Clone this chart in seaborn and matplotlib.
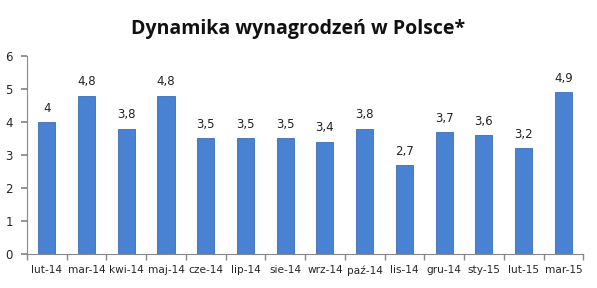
import matplotlib
matplotlib.use("Agg")
import matplotlib.pyplot as plt
import seaborn as sns
import pandas as pd
import numpy as np

months = ["lut-14", "mar-14", "kwi-14", "maj-14", "cze-14", "lip-14", "sie-14",
          "wrz-14", "paź-14", "lis-14", "gru-14", "sty-15", "lut-15", "mar-15"]
values = [4.0, 4.8, 3.8, 4.8, 3.5, 3.5, 3.5, 3.4, 3.8, 2.7, 3.7, 3.6, 3.2, 4.9]
labels = ["4", "4,8", "3,8", "4,8", "3,5", "3,5", "3,5", "3,4", "3,8", "2,7", "3,7", "3,6", "3,2", "4,9"]
yticks = [0, 1, 2, 3, 4, 5, 6]

sns.set_theme(style="white")
plt.rcParams['font.family'] = ['DejaVu Sans']

df = pd.DataFrame({"month": months, "value": values})

fig = plt.figure(figsize=(5.97, 2.88), dpi=100)
ax = fig.add_axes([0.045, 0.118, 0.932, 0.688])
sns.barplot(data=df, x="month", y="value", ax=ax, color="#4a82d3", width=0.43,
            edgecolor="#3a6db5", linewidth=0.6, saturation=1)

for i, (v, lab) in enumerate(zip(values, labels)):
    ax.text(i, v + 0.22, lab, ha="center", va="bottom", fontsize=8.5, color="#222222")

ax.set_ylim(0, 6)
ax.set_xlim(-0.5, len(months) - 0.5)
ax.set_yticks(yticks)
ax.set_yticklabels([str(t) for t in yticks], fontsize=8.5)
ax.set_xticks(range(len(months)))
ax.set_xticklabels(months, fontsize=7.6)
ax.tick_params(axis="x", length=0, pad=8)
ax.tick_params(axis="y", length=4, color="#888888", direction="out", left=True, pad=6)
ax.set_xticks(np.arange(-0.5, len(months)), minor=True)
ax.tick_params(axis="x", which="minor", length=4, color="#888888", direction="out", bottom=True)
ax.set_xlabel("")
ax.set_ylabel("")
for s in ["top", "right"]:
    ax.spines[s].set_visible(False)
for s in ["left", "bottom"]:
    ax.spines[s].set_color("#888888")
    ax.spines[s].set_linewidth(0.8)

fig.text(0.5, 0.90, "Dynamika wynagrodzeń w Polsce*", ha="center", va="center",
         fontsize=14, fontweight="bold", family=["Open Sans", "DejaVu Sans"], color="#111111")

fig.savefig("out.png", dpi=100)
